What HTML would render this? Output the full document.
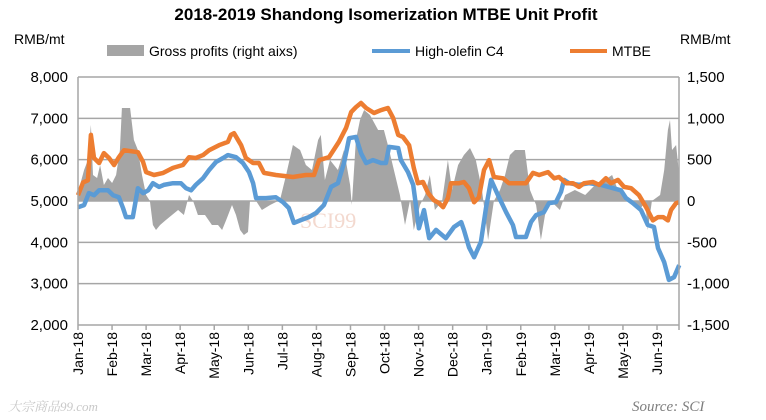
<!DOCTYPE html>
<html><head><meta charset="utf-8"><style>
html,body{margin:0;padding:0;background:#fff;}
svg{display:block;font-family:"Liberation Sans",sans-serif;}
</style></head><body>
<svg id="chart" width="766" height="420" viewBox="0 0 766 420">
<text x="386" y="20" text-anchor="middle" font-size="17" font-weight="bold" fill="#000">2018-2019 Shandong Isomerization MTBE Unit Profit</text>
<text x="14" y="44" font-size="14" fill="#000">RMB/mt</text>
<text x="680" y="44" font-size="14" fill="#000">RMB/mt</text>
<g>
<rect x="107" y="45" width="37" height="11" fill="#a5a5a5"/>
<text x="149" y="56" font-size="14">Gross profits (right aixs)</text>
<line x1="372" y1="51" x2="410" y2="51" stroke="#5b9bd5" stroke-width="4"/>
<text x="415" y="56" font-size="14">High-olefin C4</text>
<line x1="570" y1="51" x2="607" y2="51" stroke="#ed7d31" stroke-width="4"/>
<text x="612" y="56" font-size="14">MTBE</text>
</g>
<text x="300" y="228" font-size="22" fill="#f3d9cf" font-family="'Liberation Serif',serif">SCI99</text>
<text x="632" y="411" font-size="15" font-style="italic" fill="#7f7f7f" font-family="'Liberation Serif',serif">Source: SCI</text>
<text x="8" y="411" font-size="13" font-style="italic" fill="#c8c8c8" font-family="'Liberation Serif','Noto Serif CJK SC',serif">大宗商品99.com</text>
<g id="grid"></g><g id="area"></g><g id="lines"></g><g id="axes"></g>
</svg>
<script>
const monthLabels=["Jan-18","Feb-18","Mar-18","Apr-18","May-18","Jun-18","Jul-18","Aug-18","Sep-18","Oct-18","Nov-18","Dec-18","Jan-19","Feb-19","Mar-19","Apr-19","May-19","Jun-19"];
const leftTicks=[2000,3000,4000,5000,6000,7000,8000];
const rightTicks=[-1500,-1000,-500,0,500,1000,1500];
const mtbeT=[0,0.15,0.29,0.38,0.47,0.62,0.76,0.91,1.06,1.2,1.35,1.76,1.91,2,2.23,2.5,2.79,3.08,3.26,3.46,3.67,3.85,4.14,4.4,4.49,4.58,4.79,4.93,5.14,5.31,5.46,5.81,6.31,6.69,6.93,7.08,7.37,7.66,7.87,8.02,8.16,8.31,8.46,8.69,8.9,9.1,9.25,9.4,9.54,9.72,9.86,9.98,10.13,10.28,10.45,10.6,10.72,10.86,10.95,11.19,11.33,11.48,11.63,11.77,11.92,12.07,12.21,12.48,12.65,12.95,13.15,13.36,13.54,13.8,13.98,14.12,14.33,14.53,14.71,14.86,15.12,15.3,15.5,15.65,15.85,16.03,16.24,16.47,16.68,16.88,17.03,17.18,17.32,17.41,17.56,17.65];
const mtbeV=[5140,5450,5500,6600,6040,5920,6160,6040,5870,6060,6230,6180,5940,5700,5630,5680,5800,5870,6060,6040,6110,6230,6350,6430,6600,6640,6350,6040,5920,5920,5680,5630,5580,5630,5630,5990,6060,6430,6770,7150,7270,7370,7250,7130,7200,7250,7010,6600,6550,6350,5800,5430,5460,5190,5020,4950,4850,5070,5430,5430,5460,5310,4970,5090,5750,5990,5580,5550,5430,5430,5430,5680,5630,5700,5550,5580,5430,5430,5340,5430,5460,5390,5550,5430,5510,5340,5310,5140,4850,4530,4610,4610,4530,4780,4950,4970];
const c4T=[0,0.18,0.32,0.47,0.62,0.88,1.03,1.2,1.32,1.41,1.61,1.76,1.91,2.06,2.2,2.38,2.52,2.79,3.02,3.17,3.32,3.46,3.67,3.85,4.05,4.26,4.4,4.64,4.84,5.02,5.14,5.23,5.52,5.81,6.02,6.19,6.34,6.55,6.78,6.99,7.22,7.43,7.63,7.81,7.96,8.16,8.31,8.46,8.66,8.9,9.04,9.13,9.4,9.48,9.69,9.84,9.92,10.01,10.16,10.31,10.51,10.8,11.04,11.25,11.33,11.48,11.63,11.83,11.98,12.13,12.33,12.57,12.77,12.86,13.15,13.3,13.45,13.68,13.83,14.03,14.18,14.27,14.42,14.71,15,15.36,15.71,15.94,16.09,16.29,16.53,16.73,16.91,17.03,17.21,17.35,17.5,17.65];
const c4V=[4850,4900,5190,5140,5260,5260,5140,5090,4830,4610,4610,5310,5190,5260,5430,5340,5390,5430,5430,5310,5260,5390,5550,5750,5940,6040,6110,6060,5920,5700,5430,5070,5070,5090,4970,4830,4470,4540,4610,4710,4900,5340,5430,5920,6520,6550,6160,5920,5990,5920,5920,6310,6280,5990,5700,5390,4900,4340,4780,4100,4300,4100,4370,4490,4300,3880,3640,4010,4830,5510,5140,4730,4420,4130,4130,4490,4660,4730,4950,4970,5220,5510,5430,5390,5430,5390,5310,5260,5070,4950,4780,4420,4370,3860,3520,3090,3160,3450];
const grossT=[0,0.06,0.18,0.29,0.38,0.44,0.56,0.65,0.76,0.88,1,1.12,1.23,1.29,1.53,1.64,1.76,1.88,2,2.11,2.2,2.29,2.41,2.58,2.76,2.94,3.11,3.26,3.38,3.52,3.73,3.93,4.11,4.23,4.35,4.52,4.64,4.76,4.87,4.99,5.05,5.23,5.4,5.64,5.93,6.11,6.31,6.52,6.69,6.87,7.05,7.13,7.25,7.4,7.63,7.81,7.99,8.04,8.16,8.28,8.4,8.57,8.81,8.98,9.1,9.31,9.45,9.6,9.75,9.86,10.04,10.19,10.33,10.48,10.69,10.86,10.98,11.16,11.33,11.51,11.68,11.86,12.04,12.21,12.39,12.54,12.68,12.83,13.12,13.27,13.45,13.59,13.71,13.86,14,14.15,14.3,14.59,14.89,15.18,15.47,15.68,15.85,16.06,16.21,16.35,16.5,16.65,16.73,16.85,17.09,17.21,17.32,17.38,17.44,17.56,17.65];
const grossV=[97,194,375,496,920,315,278,436,194,278,218,315,617,1125,1125,738,617,315,73,0,-290,-351,-290,-230,-169,-109,-169,73,0,-169,-169,-290,-290,-351,-230,-48,-169,-351,-411,-375,0,0,-109,-48,12,315,678,617,436,375,738,799,254,496,375,617,194,-48,738,980,1101,1041,859,859,678,315,73,-290,12,-351,-48,73,315,-109,0,496,133,436,557,641,496,133,-472,0,133,315,557,617,617,133,-48,-472,-169,0,-48,-109,73,133,73,194,254,315,133,73,0,-48,-109,0,-351,0,73,375,859,980,617,678,315];

const NS="http://www.w3.org/2000/svg";
const X0=78, XSTEP=34.06, YL0=325, YL1=77;
const xOf=m=>X0+m*XSTEP;
const yL=v=>YL0-(v-2000)/6000*(YL0-YL1);
const yR=v=>YL0-(v+1500)/3000*(YL0-YL1);
function mk(tag,attrs,parent){const e=document.createElementNS(NS,tag);for(const k in attrs)e.setAttribute(k,attrs[k]);parent.appendChild(e);return e;}
const grid=document.getElementById('grid'),area=document.getElementById('area'),lines=document.getElementById('lines'),axes=document.getElementById('axes');
leftTicks.forEach((t,i)=>{
  const y=yL(t);
  if(t>2000){const g=mk('line',{x1:X0,x2:679,y1:y,y2:y,stroke:'#a6a6a6','stroke-width':1.5},grid);
  
  }
  const tx=mk('text',{x:68,y:y+5,'text-anchor':'end','font-size':15},axes);tx.textContent=t.toLocaleString('en-US');
  
  
});
rightTicks.forEach(t=>{
  const y=yR(t);
  const tx=mk('text',{x:687,y:y+5,'font-size':15},axes);tx.textContent=t.toLocaleString('en-US');
  
  
});
let d='M'+xOf(grossT[0])+','+yR(0);
grossT.forEach((t,i)=>{d+=' L'+xOf(t).toFixed(1)+','+yR(grossV[i]).toFixed(1);});
d+=' L'+xOf(grossT[grossT.length-1]).toFixed(1)+','+yR(0)+' Z';
const ar=mk('path',{d:d,fill:'#a5a5a5'},area);


function line(T,V,color,name){
  const p=mk('polyline',{points:T.map((t,i)=>xOf(t).toFixed(1)+','+yL(V[i]).toFixed(1)).join(' '),fill:'none',stroke:color,'stroke-width':4.5,'stroke-linejoin':'round'},lines);
  
  
}
line(c4T,c4V,'#5b9bd5','high-olefin-c4-line');
line(mtbeT,mtbeV,'#ed7d31','mtbe-line');
const la=mk('line',{x1:X0,x2:X0,y1:YL1,y2:YL0,stroke:'#a6a6a6','stroke-width':1.5},axes);


const ra=mk('line',{x1:679,x2:679,y1:YL1,y2:YL0+5,stroke:'#a6a6a6','stroke-width':1.5},axes);


const ba=mk('line',{x1:X0,x2:679,y1:YL0,y2:YL0,stroke:'#a6a6a6','stroke-width':1.5},axes);


monthLabels.forEach((lab,i)=>{
  const x=xOf(i);
  const tk=mk('line',{x1:x,x2:x,y1:YL0,y2:YL0+5,stroke:'#a6a6a6','stroke-width':1.5},axes);
  
  
  const tx=mk('text',{x:0,y:0,'text-anchor':'end','font-size':14,transform:'translate('+(x+5)+','+(YL0+7)+') rotate(-90)'},axes);
  tx.textContent=lab;
  
  
});
</script>
</body></html>
